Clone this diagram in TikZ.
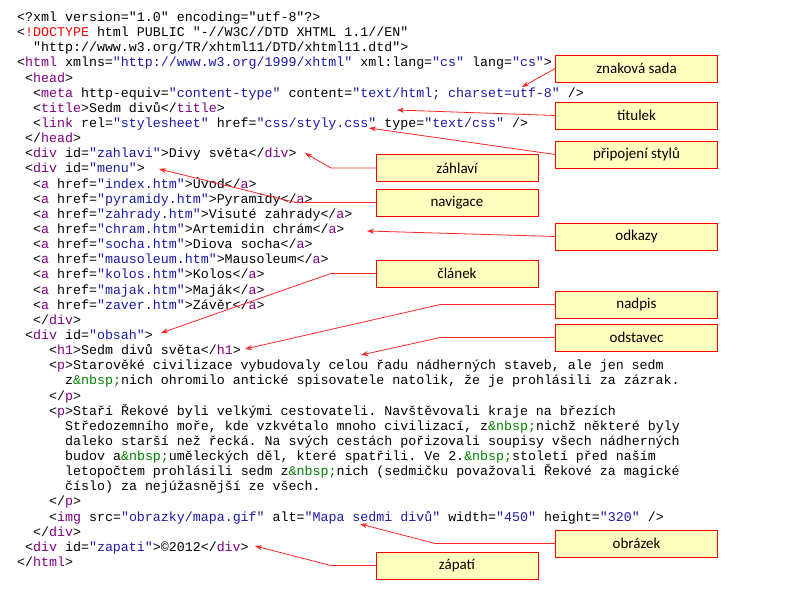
\documentclass[tikz,border=0pt]{standalone}
\usepackage{fontspec}
\setmainfont{Carlito}
\setmonofont{Liberation Mono}
\usetikzlibrary{arrows.meta}
\definecolor{tagc}{HTML}{800080}
\definecolor{valc}{HTML}{1A1AA6}
\definecolor{entc}{HTML}{008000}
\definecolor{boxfill}{HTML}{FFFFC0}
\newcommand\tg[1]{\textcolor{tagc}{#1}}
\newcommand\vl[1]{\textcolor{valc}{#1}}
\newcommand\en[1]{\textcolor{entc}{#1}}
\newcommand\codeline[3]{\node[code] (l#1) at ({17+8*#2},{21.5+15.14*(#1-1)}) {#3};}
\tikzset{
  code/.style={anchor=base west, inner sep=0pt, font=\ttfamily\fontsize{13.3}{15}\selectfont},
  lbl/.style={draw=red, fill=boxfill, minimum width=162pt, minimum height=27pt, font=\fontsize{15}{17}\selectfont},
  conn/.style={draw=red!85, line width=0.8pt, -{Stealth[length=7pt,width=5pt]}, red!85}
}
\begin{document}
\begin{tikzpicture}[x=1pt,y=-1pt]
  \useasboundingbox (0,0) rectangle (790,590);

  % kod stranky
  \codeline{1}{0}{<?xml version="1.0" encoding="utf-8"?>}
  \codeline{2}{0}{<\textcolor{red}{!DOCTYPE} html PUBLIC "-//W3C//DTD XHTML 1.1//EN"}
  \codeline{3}{2}{"http://www.w3.org/TR/xhtml11/DTD/xhtml11.dtd">}
  \codeline{4}{0}{<\tg{html} xmlns=\vl{"http://www.w3.org/1999/xhtml"} xml:lang=\vl{"cs"} lang=\vl{"cs"}>}
  \codeline{5}{1}{<\tg{head}>}
  \codeline{6}{2}{<\tg{meta} http-equiv=\vl{"content-type"} content=\vl{"text/html; charset=utf-8"} />}
  \codeline{7}{2}{<\tg{title}>Sedm divů</\tg{title}>}
  \codeline{8}{2}{<\tg{link} rel=\vl{"stylesheet"} href=\vl{"css/styly.css"} type=\vl{"text/css"} />}
  \codeline{9}{1}{</\tg{head}>}
  \codeline{10}{1}{<\tg{div} id=\vl{"zahlavi"}>Divy světa</\tg{div}>}
  \codeline{11}{1}{<\tg{div} id=\vl{"menu"}>}
  \codeline{12}{2}{<\tg{a} href=\vl{"index.htm"}>Úvod</\tg{a}>}
  \codeline{13}{2}{<\tg{a} href=\vl{"pyramidy.htm"}>Pyramidy</\tg{a}>}
  \codeline{14}{2}{<\tg{a} href=\vl{"zahrady.htm"}>Visuté zahrady</\tg{a}>}
  \codeline{15}{2}{<\tg{a} href=\vl{"chram.htm"}>Artemidin chrám</\tg{a}>}
  \codeline{16}{2}{<\tg{a} href=\vl{"socha.htm"}>Diova socha</\tg{a}>}
  \codeline{17}{2}{<\tg{a} href=\vl{"mausoleum.htm"}>Mausoleum</\tg{a}>}
  \codeline{18}{2}{<\tg{a} href=\vl{"kolos.htm"}>Kolos</\tg{a}>}
  \codeline{19}{2}{<\tg{a} href=\vl{"majak.htm"}>Maják</\tg{a}>}
  \codeline{20}{2}{<\tg{a} href=\vl{"zaver.htm"}>Závěr</\tg{a}>}
  \codeline{21}{2}{</\tg{div}>}
  \codeline{22}{1}{<\tg{div} id=\vl{"obsah"}>}
  \codeline{23}{4}{<\tg{h1}>Sedm divů světa</\tg{h1}>}
  \codeline{24}{4}{<\tg{p}>Starověké civilizace vybudovaly celou řadu nádherných staveb, ale jen sedm}
  \codeline{25}{6}{z\en{\&nbsp;}nich ohromilo antické spisovatele natolik, že je prohlásili za zázrak.}
  \codeline{26}{4}{</\tg{p}>}
  \codeline{27}{4}{<\tg{p}>Staří Řekové byli velkými cestovateli. Navštěvovali kraje na březích}
  \codeline{28}{6}{Středozemního moře, kde vzkvétalo mnoho civilizací, z\en{\&nbsp;}nichž některé byly}
  \codeline{29}{6}{daleko starší než řecká. Na svých cestách pořizovali soupisy všech nádherných}
  \codeline{30}{6}{budov a\en{\&nbsp;}uměleckých děl, které spatřili. Ve 2.\en{\&nbsp;}století před naším}
  \codeline{31}{6}{letopočtem prohlásili sedm z\en{\&nbsp;}nich (sedmičku považovali Řekové za magické}
  \codeline{32}{6}{číslo) za nejúžasnější ze všech.}
  \codeline{33}{4}{</\tg{p}>}
  \codeline{34}{4}{<\tg{img} src=\vl{"obrazky/mapa.gif"} alt=\vl{"Mapa sedmi divů"} width=\vl{"450"} height=\vl{"320"} />}
  \codeline{35}{2}{</\tg{div}>}
  \codeline{36}{1}{<\tg{div} id=\vl{"zapati"}>©2012</\tg{div}>}
  \codeline{37}{0}{</\tg{html}>}

  % popisky
  \node[lbl] (sada) at (636.5,68.5) {znaková sada};
  \node[lbl] (titulek) at (636.5,115.5) {titulek};
  \node[lbl] (styly) at (636.5,154.5) {připojení stylů};
  \node[lbl] (zahlavi) at (457,168) {záhlaví};
  \node[lbl] (navigace) at (457,202.5) {navigace};
  \node[lbl] (odkazy) at (636.5,236.5) {odkazy};
  \node[lbl] (clanek) at (457,273.5) {článek};
  \node[lbl] (nadpis) at (636.5,304.5) {nadpis};
  \node[lbl] (odstavec) at (636.5,337.5) {odstavec};
  \node[lbl] (obrazek) at (636.5,543.5) {obrázek};
  \node[lbl] (zapati) at (457,565.5) {zápatí};

  % cile sipek
  \coordinate (tSada) at (522,87);
  \coordinate (tTitulek) at (397,110);
  \coordinate (tStyly) at (369,128);
  \coordinate (tZahlavi) at (305,153);
  \coordinate (tNavigace) at (159,169);
  \coordinate (tOdkazy) at (367,231);
  \coordinate (tClanek) at (161,333);
  \coordinate (tNadpis) at (245,349);
  \coordinate (tOdstavec) at (361,355);
  \coordinate (tObrazek) at (360,524);
  \coordinate (tZapati) at (255,546);

  \draw[conn] (sada.west) -- (tSada);
  \draw[conn] (titulek.west) -- (tTitulek);
  \draw[conn] (styly.west) -- (tStyly);
  \draw[conn] (zahlavi.west) -- ++(-45,0) -- (tZahlavi);
  \draw[conn] (navigace.west) -- ++(-80,0) -- (tNavigace);
  \draw[conn] (odkazy.west) -- (tOdkazy);
  \draw[conn] (clanek.west) -- ++(-45,0) -- (tClanek);
  \draw[conn] (nadpis.west) -- ++(-115,0) -- (tNadpis);
  \draw[conn] (odstavec.west) -- ++(-115,0) -- (tOdstavec);
  \draw[conn] (obrazek.west) -- ++(-120,0) -- (tObrazek);
  \draw[conn] (zapati.west) -- ++(-45,0) -- (tZapati);
\end{tikzpicture}
\end{document}
